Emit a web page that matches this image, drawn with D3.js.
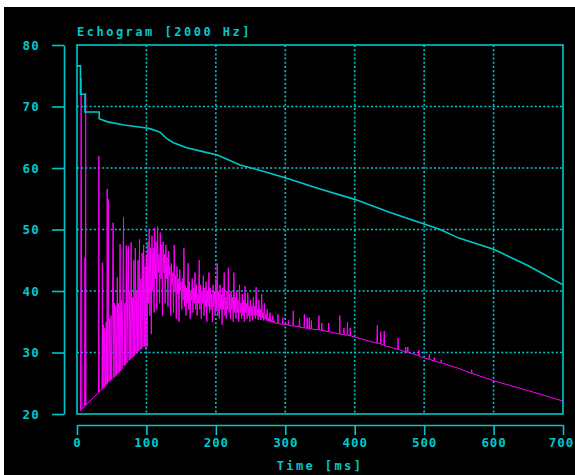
<!DOCTYPE html>
<html>
<head>
<meta charset="utf-8">
<script src="https://cdn.jsdelivr.net/npm/d3@7"></script>
<style>
  html, body { margin: 0; padding: 0; background: #ffffff; }
  svg { display: block; }
  text { font-family: "DejaVu Sans Mono", monospace; font-weight: bold; fill: #00c8c8; }
</style>
</head>
<body>
<svg id="chart" width="575" height="475"></svg>
<script>
// ---------- DATA ----------
const chartTitle = "Echogram [2000 Hz]";
const xAxisLabel = "Time [ms]";
const xTicks = [0, 100, 200, 300, 400, 500, 600, 700];
const yTicks = [20, 30, 40, 50, 60, 70, 80];

// Backward-integrated decay curve (cyan): [time ms, dB]
const decayCurve = [
  [0,76.6],[5,76.6],[5,72.0],[11.5,72.0],[11.5,69.1],[32,69.1],[32,68.0],[44,67.5],
  [68,67.0],[100,66.5],[105,66.4],[120,65.8],[129,64.8],[139,64.1],[158,63.3],
  [180,62.7],[202,62.1],[235,60.5],[264,59.6],[300,58.4],[350,56.6],[400,54.9],
  [450,52.8],[500,50.9],[523,50.0],[550,48.6],[600,46.8],[650,44.1],[700,41.0]
];

// Echogram (magenta), early part: [time ms, dB]
const echoEarly = [
  [5,20.5],[6,74.6],[7,20.8],[11,21.3],[11.5,45.4],[12,21.4],[12.5,72.2],[13,21.5],
  [31,23.5],[31.5,61.9],[32,23.6],
  [36,24.0],[36.5,44.6],[37,24.1],[38,34.5],[39,24.3],[40,34.0],[41,24.5],[42,35.0],[43,24.8],
  [43.5,56.6],[44,25.0],[45,54.9],[46,25.2],[47,35.5],[48,25.4],[49,36.0],[50,25.6],[51,37.0],
  [52,51.1],[53,25.9],[54,38.0],[55,26.1],[56,37.5],[57,26.3],[58,42.2],[59,26.6],[60,38.0],
  [61,26.8],[62,47.6],[63,27.0],[64,38.5],[65,27.3],[66,39.0],[67,52.0],[68,27.8],[69,38.0],
  [70,28.0],[71,47.4],[72,28.3],[73,39.0],[74,47.3],[75,28.7],[76,40.0],[77,28.9],[78,47.9],
  [79,29.1],[80,39.0],[81,29.3],[82,45.0],[83,29.5],[84,47.0],[85,29.8],[86,40.0],[87,30.0],
  [88,45.0],[89,30.2],[90,48.4],[91,30.4],[92,42.0],[93,30.6],[94,46.2],[95,30.9],[96,47.5],
  [97,31.0],[98,44.0],[99,30.5]
];

// Echogram (magenta), dense middle part
const echoMid = [
  [100,46.0],[101,31.0],[102,48.0],[103,38.0],[104,50.0],[105,36.0],[106,47.0],[107,33.0],
  [108,49.0],[109,40.0],[110,47.0],[111,36.5],[112,50.3],[113,42.0],[114,48.0],[115,37.0],
  [116,50.5],[117,43.0],[118,46.0],[119,38.0],[120,49.5],[121,42.0],[122,47.5],[123,36.0],
  [124,48.0],[125,43.0],[126,46.0],[127,38.0],[128,47.5],[129,42.0],[130,45.5],[131,37.5],
  [132,46.5],[133,42.5],[134,44.0],[135,36.0],[136,44.5],[137,41.0],[138,43.0],[139,36.5],
  [140,47.5],[141,40.0],[142,42.5],[143,35.5],[144,44.0],[145,39.5],[146,42.0],[147,35.0],
  [148,43.5],[149,40.0],[150,41.5],[151,37.0],[152,42.0],[153,38.5],[154,47.0],[155,37.5],
  [156,41.0],[157,36.0],[158,40.5],[159,38.0],[160,44.5],[161,37.0],[162,41.5],[163,35.5],
  [164,40.0],[165,38.5],[166,42.0],[167,36.5],[168,40.5],[169,38.0],[170,43.0],[171,37.0],
  [172,41.0],[173,36.0],[174,39.5],[175,38.0],[176,45.0],[177,37.0],[178,41.0],[179,35.5],
  [180,40.0],[181,38.0],[182,42.5],[183,36.0],[184,40.5],[185,37.5],[186,41.5],[187,35.0],
  [188,40.0],[189,37.5],[190,43.0],[191,36.5],[192,40.5],[193,37.0],[194,39.5],[195,35.0],
  [196,41.0],[197,37.5],[198,40.0],[199,36.0],[200,42.0],[201,37.0],[202,44.5],[203,36.0],
  [204,40.0],[205,35.5],[206,41.0],[207,37.0],[208,39.5],[209,34.5],[210,40.5],[211,37.0],
  [212,43.0],[213,36.0],[214,39.0],[215,35.5],[216,40.0],[217,37.0],[218,43.8],[219,36.5],
  [220,39.5],[221,35.5],[222,40.0],[223,37.0],[224,39.0],[225,35.0],[226,43.0],[227,36.5],
  [228,39.0],[229,35.5],[230,40.0],[231,36.5],[232,38.5],[233,35.0],[234,41.0],[235,36.5],
  [236,38.0],[237,35.5],[238,39.5],[239,36.0],[240,38.5],[241,35.0],[242,40.8],[243,36.5],
  [244,38.0],[245,35.5],[246,39.7],[247,36.0],[248,37.5],[249,35.0],[250,38.5],[251,36.0],
  [252,37.5],[253,35.2],[254,39.0],[255,36.0],[256,37.5],[257,35.5],[258,40.6],[259,36.0],
  [260,37.0],[261,35.3],[262,38.5],[263,35.8],[264,37.0],[265,35.3],[266,39.5],[267,35.6],
  [268,36.5],[269,35.2],[270,38.0],[271,35.4],[272,36.2],[273,35.2],[274,37.0],[275,35.1],
  [276,35.6],[277,35.0],[278,36.5],[279,35.0],[280,35.3],[281,34.9],[282,36.0],[283,34.9],
  [284,35.1],[285,34.8]
];

// Echogram (magenta), late tail with isolated reflections
const echoLate = [
  [289,34.7],[289.5,36.2],[290,34.7],[296,34.6],[296.5,35.7],[297,34.6],[304,34.5],[304.5,35.2],
  [305,34.4],[311,34.3],[311.5,36.8],[312,34.3],[320,34.2],[320.5,35.5],[321,34.1],[327,34.0],
  [327.5,36.2],[328,34.0],[331,33.9],[331.5,35.6],[332,33.9],[334,33.8],[334.5,35.7],[335,33.8],
  [337,33.8],[337.5,35.2],[338,33.8],[348,33.7],[348.5,36.0],[349,33.7],[352,33.6],[352.5,34.8],
  [353,33.6],[362,33.4],[362.5,34.8],[363,33.4],[378,33.0],[378.5,36.0],[379,33.0],[384,32.9],
  [384.5,34.0],[385,32.9],[389,32.8],[389.5,34.9],[390,32.8],[393,32.7],[393.5,34.0],[394,32.7],
  [400,32.5],[432,31.5],[432.5,34.4],[433,31.5],[437,31.4],[437.5,33.4],[438,31.3],[442,31.2],
  [442.5,33.5],[443,31.1],[450,30.9],[462,30.5],[462.5,32.4],[463,30.5],[473,30.1],[473.5,30.9],
  [474,30.1],[476,30.0],[476.5,30.9],[477,30.0],[492,29.5],[492.5,30.4],[493,29.4],[500,29.1],
  [507,28.9],[507.5,29.7],[508,28.9],[514,28.6],[514.5,29.2],[515,28.6],[524,28.3],[524.5,28.8],
  [525,28.3],[550,27.4],[568,26.6],[568.5,27.2],[569,26.6],[600,25.4],[650,23.8],[700,22.1]
];

// ---------- DRAW ----------
const CYAN = "#00c8c8";
const MAGENTA = "#ff00ff";
const svg = d3.select("#chart");

// black canvas (white strip at top/left as in the reference)
svg.append("rect").attr("x", 4).attr("y", 7).attr("width", 571).attr("height", 468).attr("fill", "#000");

const plot = { left: 77, right: 563, top: 45, bottom: 414 };
const x = d3.scaleLinear().domain([0, 700]).range([plot.left, plot.right]);
const y = d3.scaleLinear().domain([20, 80]).range([plot.bottom, plot.top]);

// dotted grid
const grid = svg.append("g");
grid.selectAll("line.v").data(xTicks.slice(1, -1)).join("line")
  .attr("x1", d => x(d)).attr("x2", d => x(d))
  .attr("y1", plot.top).attr("y2", plot.bottom)
  .attr("stroke", CYAN).attr("stroke-width", 1.6).attr("stroke-dasharray", "2,2.2");
grid.selectAll("line.h").data(yTicks.slice(1, -1)).join("line")
  .attr("x1", plot.left).attr("x2", plot.right)
  .attr("y1", d => y(d)).attr("y2", d => y(d))
  .attr("stroke", CYAN).attr("stroke-width", 1.6).attr("stroke-dasharray", "2,2.2");

// clip
svg.append("clipPath").attr("id", "clip").append("rect")
  .attr("x", plot.left).attr("y", plot.top)
  .attr("width", plot.right - plot.left).attr("height", plot.bottom - plot.top);

const line = d3.line().x(d => x(d[0])).y(d => y(d[1]));

svg.append("path").datum(echoEarly.concat(echoMid, echoLate))
  .attr("clip-path", "url(#clip)")
  .attr("d", line).attr("fill", "none")
  .attr("stroke", MAGENTA).attr("stroke-width", 1).attr("stroke-linejoin", "miter");

svg.append("path").datum(decayCurve)
  .attr("clip-path", "url(#clip)")
  .attr("d", line).attr("fill", "none")
  .attr("stroke", CYAN).attr("stroke-width", 1.6);

// frame
svg.append("rect").attr("x", plot.left).attr("y", plot.top)
  .attr("width", plot.right - plot.left).attr("height", plot.bottom - plot.top)
  .attr("fill", "none").attr("stroke", CYAN).attr("stroke-width", 1.6);

// Y axis (separate)
const yAxis = d3.axisLeft(y).tickValues(yTicks).tickSize(12).tickSizeOuter(0).tickPadding(12);
const gy = svg.append("g").attr("transform", "translate(64,0)").call(yAxis);
gy.select(".domain").attr("stroke", CYAN).attr("stroke-width", 1.6);
gy.selectAll(".tick line").attr("stroke", CYAN).attr("stroke-width", 1.6);
gy.selectAll(".tick text").attr("fill", CYAN)
  .style("font-family", "'DejaVu Sans Mono', monospace").style("font-weight", "bold")
  .style("font-size", "12.5px").style("letter-spacing", "1.2px");

// X axis (separate)
const xAxis = d3.axisBottom(x).tickValues(xTicks).tickSize(10).tickSizeOuter(0).tickPadding(3);
const gx = svg.append("g").attr("transform", "translate(0,425)").call(xAxis);
gx.select(".domain").attr("stroke", CYAN).attr("stroke-width", 1.6);
gx.selectAll(".tick line").attr("stroke", CYAN).attr("stroke-width", 1.6);
gx.selectAll(".tick text").attr("fill", CYAN)
  .style("font-family", "'DejaVu Sans Mono', monospace").style("font-weight", "bold")
  .style("font-size", "12.5px").style("letter-spacing", "0.9px");
// keep the last label inside the window
gx.selectAll(".tick text").filter(d => d === 700).attr("dx", "-2px");

// title
svg.append("text").attr("x", 77).attr("y", 36)
  .style("font-size", "12px").style("letter-spacing", "2.5px")
  .text(chartTitle);

// x label
svg.append("text").attr("x", 320).attr("y", 470).attr("text-anchor", "middle")
  .style("font-size", "12px").style("letter-spacing", "2.4px")
  .text(xAxisLabel);
</script>
</body>
</html>
